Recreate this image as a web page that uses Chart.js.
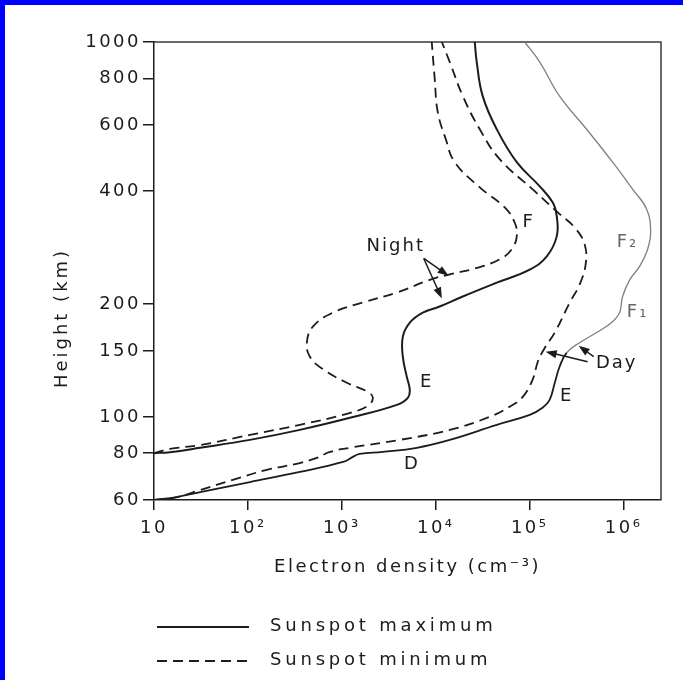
<!DOCTYPE html>
<html>
<head>
<meta charset="utf-8">
<title>Electron density profiles</title>
<script src="https://cdn.jsdelivr.net/npm/chart.js@4.4.1/dist/chart.umd.min.js"></script>
<style>
  html, body { margin: 0; padding: 0; background: #fff; }
  #wrap { position: relative; width: 683px; height: 680px; overflow: hidden; }
  #wrap::before { content: ""; position: absolute; left: 0; top: 0; width: 683px; height: 5px; background: #0000fe; }
  #wrap::after { content: ""; position: absolute; left: 0; top: 0; width: 5px; height: 680px; background: #0000fe; }
  canvas { display: block; }
</style>
</head>
<body>
<div id="wrap"><canvas id="ionoChart" width="683" height="680"></canvas></div>
<script>
// ================= DATA =================
// axis ticks
const xTickValues = [10, 100, 1e3, 1e4, 1e5, 1e6];
const xTickLabels = ["10", "10²", "10³", "10⁴", "10⁵", "10⁶"];
const yTickValues = [60, 80, 100, 150, 200, 400, 600, 800, 1000];
const yTickLabels = ["60", "80", "100", "150", "200", "400", "600", "800", "1000"];

// night, sunspot maximum (solid)
const nightMaxDensity = [10, 14.8, 31, 105, 357, 1220, 3850, 5040, 5290, 4910, 4460, 4460, 5290, 7280, 11000, 19400, 44600, 100000, 152000, 194000, 194000, 176000, 128000, 72800, 44600, 31600, 27300, 26000];
const nightMaxHeight  = [80, 80.5, 82.7, 86.8, 92.3, 99.4, 107.6, 112.4, 118, 128, 144.7, 163.7, 178.4, 189.7, 196.9, 209.4, 228, 247, 268, 303, 343, 373, 412, 478, 585, 717, 884, 1000];

// night, sunspot minimum (dashed)
const nightMinDensity = [10, 14.8, 31, 105, 357, 1130, 1890, 2140, 1890, 1130, 628, 457, 424, 491, 802, 1670, 3850, 8630, 14100, 26000, 47900, 64400, 72800, 69200, 54200, 29400, 15900, 12800, 10500, 9750, 9060];
const nightMinHeight  = [80, 82.1, 84.1, 89.5, 95.2, 101.9, 107, 112.4, 116.6, 123.3, 134, 144.7, 157.7, 174, 189.7, 201.8, 214.6, 232, 240, 248.7, 263, 280, 303, 330, 362, 409.6, 478, 550, 650, 796, 1000];

// day, sunspot minimum (dashed)
const dayMinDensity = [10, 17.6, 31, 69, 159, 357, 542, 745, 1220, 4140, 14100, 37500, 61200, 84300, 108000, 122000, 145000, 185000, 267000, 340000, 394000, 385000, 301000, 199000, 113000, 47900, 29400, 19400, 14100, 11600];
const dayMinHeight  = [60, 61.1, 63.8, 67.9, 72.2, 75.3, 77.7, 80.6, 82.7, 86.8, 92.3, 100, 106.4, 113.1, 126, 140.3, 152.9, 167.9, 201.8, 225.4, 255, 288.4, 320, 351, 400, 487, 585, 717, 884, 1000];

// day, sunspot maximum (solid)
const dayMaxDensity = [10, 17.6, 31, 105, 357, 1030, 1310, 1550, 2730, 6280, 14100, 44600, 100000, 137000, 163000, 185000, 208000, 248000, 340000, 516000, 745000, 906000, 975000, 1160000, 1480000, 1800000, 1940000, 1760000, 1250000, 764000, 404000, 208000, 128000, 88500];
const dayMaxHeight  = [60, 61.1, 63, 67, 71.3, 75.8, 78.2, 79.6, 80.6, 82.7, 86.8, 95.2, 101.2, 105.7, 111, 123.3, 136, 148.4, 157.7, 167.9, 178.4, 189.7, 209.4, 232, 252, 280, 312, 358, 404.5, 478, 585, 717, 884, 1000];

// text labels inside the plot (density, height)
const noteLabels  = ["Night", "F", "E", "D", "F₂", "F₁", "Day", "E"];
const noteDensity = [3750, 97500, 8000, 5560, 1100000, 1410000, 843000, 248000];
const noteHeight  = [285, 330, 123.3, 74.9, 292, 189.7, 138.7, 113.1];

// arrows from the Night / Day labels to the curves
const arrowFromDensity = [7450, 7450, 414000, 480000];
const arrowFromHeight  = [264.6, 264.6, 140.3, 144.7];
const arrowToDensity   = [13700, 11600, 148000, 332000];
const arrowToHeight    = [238, 207, 149.2, 154.8];

const legendLabels = ["Sunspot maximum", "Sunspot minimum"];

// ================= HELPERS =================
const INK = "#1c1c1c";
const GRAY = "#808080";
const DASH = [10, 6];
const FONT = '"DejaVu Sans", sans-serif';

const toPoints = (xs, ys) => xs.map((x, i) => ({ x: x, y: ys[i] }));

Chart.defaults.font.family = FONT;
Chart.defaults.font.size = 18;
Chart.defaults.color = INK;

// blank canvas + letter spacing to mimic the drafting lettering
const paperPlugin = {
  id: "paper",
  beforeDraw(chart) {
    const ctx = chart.ctx;
    ctx.save();
    ctx.fillStyle = "#ffffff";
    ctx.fillRect(0, 0, chart.width, chart.height);
    ctx.restore();
    ctx.letterSpacing = "2.5px";
  }
};

// top and right edges of the plot box
const boxPlugin = {
  id: "box",
  beforeDatasetsDraw(chart) {
    const { ctx, chartArea: a } = chart;
    ctx.save();
    ctx.strokeStyle = "#3a3a3a";
    ctx.lineWidth = 1.5;
    ctx.beginPath();
    ctx.moveTo(a.left, a.top);
    ctx.lineTo(a.right, a.top);
    ctx.lineTo(a.right, a.bottom);
    ctx.stroke();
    ctx.restore();
  }
};

// annotations, arrows, y title and the legend
const notesPlugin = {
  id: "notes",
  afterDraw(chart) {
    const { ctx, chartArea: a } = chart;
    const xs = chart.scales.x, ys = chart.scales.y;
    ctx.save();
    ctx.font = "18px " + FONT;
    ctx.textAlign = "center";
    ctx.textBaseline = "middle";
    ctx.letterSpacing = "2px";

    noteLabels.forEach((t, i) => {
      ctx.fillStyle = (t === "F₂" || t === "F₁") ? "#666" : INK;
      ctx.fillText(t, xs.getPixelForValue(noteDensity[i]), ys.getPixelForValue(noteHeight[i]));
    });

    // arrows
    ctx.strokeStyle = INK;
    ctx.fillStyle = INK;
    ctx.lineWidth = 1.5;
    arrowFromDensity.forEach((d, i) => {
      const x0 = xs.getPixelForValue(d), y0 = ys.getPixelForValue(arrowFromHeight[i]);
      const x1 = xs.getPixelForValue(arrowToDensity[i]), y1 = ys.getPixelForValue(arrowToHeight[i]);
      const ang = Math.atan2(y1 - y0, x1 - x0);
      ctx.beginPath();
      ctx.moveTo(x0, y0);
      ctx.lineTo(x1 - 6 * Math.cos(ang), y1 - 6 * Math.sin(ang));
      ctx.stroke();
      ctx.beginPath();
      ctx.moveTo(x1, y1);
      ctx.lineTo(x1 - 11 * Math.cos(ang) + 4 * Math.sin(ang), y1 - 11 * Math.sin(ang) - 4 * Math.cos(ang));
      ctx.lineTo(x1 - 11 * Math.cos(ang) - 4 * Math.sin(ang), y1 - 11 * Math.sin(ang) + 4 * Math.cos(ang));
      ctx.closePath();
      ctx.fill();
    });

    // y axis title (sits below the axis middle in the original)
    ctx.save();
    ctx.translate(a.left - 92, a.top + 276);
    ctx.rotate(-Math.PI / 2);
    ctx.letterSpacing = "3px";
    ctx.fillStyle = INK;
    ctx.fillText("Height (km)", 0, 0);
    ctx.restore();

    // legend
    ctx.letterSpacing = "3.8px";
    ctx.textAlign = "left";
    legendLabels.forEach((t, i) => {
      const y = a.bottom + 126 + i * 34;
      ctx.setLineDash(i === 0 ? [] : DASH);
      ctx.lineWidth = 1.8;
      ctx.beginPath();
      ctx.moveTo(a.left + 3, y + 1);
      ctx.lineTo(a.left + 95, y + 1);
      ctx.stroke();
      ctx.setLineDash([]);
      ctx.fillText(t, a.left + 116, y);
    });
    ctx.restore();
  }
};

// ================= CHART =================
const ctx = document.getElementById("ionoChart").getContext("2d");

const chart = new Chart(ctx, {
  type: "scatter",
  data: {
    datasets: [
      {
        label: "Night, sunspot maximum",
        data: toPoints(nightMaxDensity, nightMaxHeight),
        borderColor: INK,
        borderWidth: 2
      },
      {
        label: "Night, sunspot minimum",
        data: toPoints(nightMinDensity, nightMinHeight),
        borderColor: INK,
        borderWidth: 1.8,
        borderDash: DASH
      },
      {
        label: "Day, sunspot minimum",
        data: toPoints(dayMinDensity, dayMinHeight),
        borderColor: INK,
        borderWidth: 1.8,
        borderDash: DASH
      },
      {
        label: "Day, sunspot maximum",
        data: toPoints(dayMaxDensity, dayMaxHeight),
        borderColor: INK,
        borderWidth: 1.8,
        segment: {
          borderColor: c => (c.p0.parsed.y >= 145 ? GRAY : INK),
          borderWidth: c => (c.p0.parsed.y >= 145 ? 1.3 : 1.8)
        }
      }
    ]
  },
  options: {
    responsive: false,
    animation: false,
    showLine: true,
    elements: {
      point: { radius: 0, hoverRadius: 0 },
      line: { tension: 0.42, fill: false }
    },
    layout: { padding: { left: 0, right: 22, top: 42, bottom: 90 } },
    plugins: {
      legend: { display: false },
      tooltip: { enabled: false }
    },
    scales: {
      x: {
        type: "logarithmic",
        position: "bottom",
        min: 10,
        max: 2.5e6,
        afterBuildTicks: s => { s.ticks = xTickValues.map(v => ({ value: v })); },
        afterFit: s => { s.height = 90; },
        ticks: {
          autoSkip: false,
          maxRotation: 0,
          padding: 8,
          color: INK,
          callback: v => xTickLabels[xTickValues.indexOf(v)] ?? ""
        },
        grid: { drawOnChartArea: false, drawTicks: true, tickLength: 10, color: INK, lineWidth: 1.5 },
        border: { color: INK, width: 1.5 },
        title: {
          display: true,
          text: "Electron density (cm⁻³)",
          color: INK,
          font: { size: 18 },
          padding: { top: 0, bottom: 12 }
        }
      },
      y: {
        type: "logarithmic",
        position: "left",
        min: 60,
        max: 1000,
        afterBuildTicks: s => { s.ticks = yTickValues.map(v => ({ value: v })); },
        afterFit: s => { s.width = 154; },
        ticks: {
          autoSkip: false,
          padding: 2,
          color: INK,
          callback: v => yTickLabels[yTickValues.indexOf(v)] ?? ""
        },
        grid: { drawOnChartArea: false, drawTicks: true, tickLength: 11, color: INK, lineWidth: 1.5 },
        border: { color: INK, width: 1.5 }
      }
    }
  },
  plugins: [paperPlugin, boxPlugin, notesPlugin]
});
</script>
</body>
</html>
